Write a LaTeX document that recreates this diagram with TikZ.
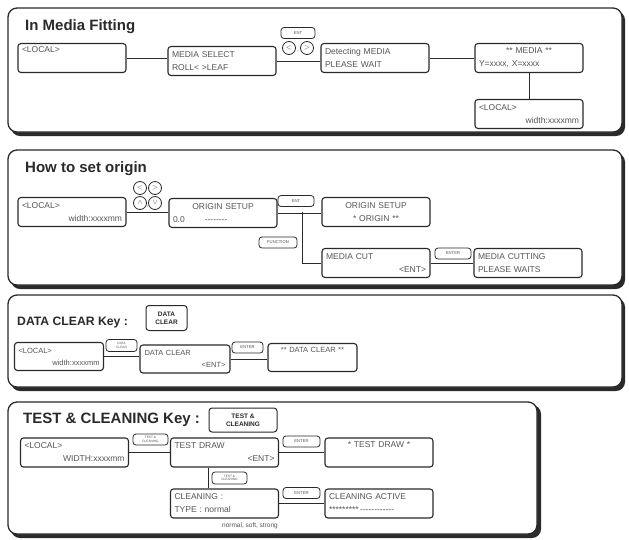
\documentclass[tikz,border=0pt]{standalone}
\usepackage{fontspec}
\setmainfont{Liberation Sans}
\definecolor{inkcol}{HTML}{2a2a2a}
\definecolor{txtcol}{HTML}{555555}
\newcommand{\midline}[1]{\makebox[\linewidth][c]{#1}}
\newcommand{\dashrow}[1]{\foreach \i in {1,...,#1}{\string-}}

\tikzset{
  lcd/.style={draw=inkcol, line width=1.1pt, rounded corners=3pt, fill=white,
    minimum width=108pt, minimum height=29pt, text width=100pt, align=left,
    inner xsep=4pt, inner ysep=2pt, text=txtcol, font=\fontsize{8.5}{13}\selectfont},
  lcdsmall/.style={lcd, minimum width=89pt, minimum height=28pt, text width=81pt,
    font=\fontsize{7.5}{12}\selectfont},
  keybox/.style={draw=inkcol, line width=0.8pt, rounded corners=3pt, fill=white,
    minimum width=34pt, minimum height=11pt, inner sep=0pt, align=center,
    text=txtcol, font=\fontsize{4.2}{4}\selectfont},
  keyround/.style={circle, draw=inkcol, line width=0.8pt, fill=white,
    minimum size=13pt, inner sep=0pt, text=txtcol, font=\fontsize{7}{7}\selectfont},
  bigkey/.style={draw=inkcol, line width=1pt, rounded corners=3pt, align=center,
    inner sep=0pt, text=inkcol, font=\bfseries\fontsize{6.5}{8}\selectfont},
  wire/.style={draw=inkcol, line width=0.9pt},
  panel/.style={draw=inkcol, line width=1.3pt, rounded corners=9pt, fill=white},
  panelshadow/.style={fill=inkcol, rounded corners=9pt},
  paneltitle/.style={anchor=west, inner sep=0pt, text=inkcol,
    font=\bfseries\fontsize{15}{15}\selectfont},
}

\begin{document}
\begin{tikzpicture}[x=1pt, y=-1pt]
\useasboundingbox (0,0) rectangle (629,539);

% --- Panel 1: In Media Fitting ---
\fill[panelshadow] (11,11) rectangle (625,136);
\draw[panel] (8,8) rectangle (622,132);
\node[paneltitle] (t1) at (25,27) {In Media Fitting};

\node[lcd] (loc1) at (72,58) {<LOCAL>\\\strut};
\node[lcd] (sel) at (222,61) {MEDIA SELECT\\ROLL< >LEAF};
\node[lcd] (det) at (375,58) {Detecting MEDIA\\PLEASE WAIT};
\node[lcd] (med) at (529,58) {\midline{** MEDIA **}\\Y=xxxx, X=xxxx};
\node[lcd] (loc2) at (529,114) {<LOCAL>\\\hspace*{\fill}width:xxxxmm};

% connectors
\draw[wire] (loc1.east) -- (loc1.east -| sel.west);
\draw[wire] (sel.east) -- (sel.east -| det.west);
\draw[wire] (det.east) -- (med.west);
\draw[wire] (med.south) -- (loc2.north);

% keys
\node[keybox] (ent1) at (298,33) {ENT};
\node[keyround] (lt1) at (289,48) {$<$};
\node[keyround] (gt1) at (307,48) {$>$};
\node[text=inkcol, font=\tiny, inner sep=0pt] (cm1) at (298,52) {,};

% --- Panel 2: How to set origin ---
\fill[panelshadow] (11,153) rectangle (625,289);
\draw[panel] (8,150) rectangle (622,285);
\node[paneltitle] (t2) at (25,169) {How to set origin};

\node[lcd] (loc3) at (72,212) {<LOCAL>\\\hspace*{\fill}width:xxxxmm};
\node[lcd] (orig) at (223,213) {\midline{ORIGIN SETUP}\\0.0\hspace{20pt}\dashrow{8}};
\node[lcd, align=center] (orig2) at (376,212) {ORIGIN SETUP\\** ORIGIN **};
\node[lcd] (mcut) at (376,263) {MEDIA CUT\\\hspace*{\fill}<ENT>};
\node[lcd] (mcutting) at (528,263) {MEDIA CUTTING\\PLEASE WAITS};
\coordinate (j2) at (302,212);

% connectors
\draw[wire] (loc3.east) -- (loc3.east -| orig.west);
\draw[wire] (orig.east) -- (orig.east -| orig2.west);
\draw[wire] (j2) |- (mcut.west);
\draw[wire] (mcut.east) -- (mcutting.west);

% keys
\node[keyround] (lt2) at (140,188) {$<$};
\node[keyround] (gt2) at (155,188) {$>$};
\node[keyround] (up2) at (140,203) {$\wedge$};
\node[keyround] (dn2) at (155,203) {$\vee$};
\node[text=inkcol, font=\tiny, inner sep=0pt] (cm2) at (147.5,207) {,};
\node[keybox, minimum width=36pt] (ent2) at (296,201) {ENT};
\node[keybox, minimum width=38pt] (func2) at (278,242.5) {FUNCTION};
\node[keybox, minimum width=36pt] (enter2) at (453,253.5) {ENTER};

% --- Panel 3: DATA CLEAR key ---
\fill[panelshadow] (11,298) rectangle (625,391);
\draw[panel] (8,295) rectangle (622,387);
\node[paneltitle, font=\bfseries\fontsize{12.2}{12}\selectfont] (t3) at (17,322) {DATA CLEAR Key :};
\node[bigkey, minimum width=41pt, minimum height=25pt] (dckey) at (166.5,318) {DATA\\CLEAR};

\node[lcdsmall] (loc4) at (59,356.5) {<LOCAL>\\\hspace*{\fill}width:xxxxmm};
\node[lcdsmall, minimum width=90pt] (dclr) at (185,359) {DATA CLEAR\\\hspace*{\fill}<ENT>};
\node[lcdsmall] (dclr2) at (312.5,357.5) {\midline{** DATA CLEAR **}\\\strut};

% connectors
\draw[wire] (loc4.east) -- (loc4.east -| dclr.west);
\draw[wire] (dclr.east) -- (dclr.east -| dclr2.west);

% keys
\node[keybox, minimum width=31pt, minimum height=12pt, font=\fontsize{3.2}{3.4}\selectfont] (dckey2) at (121.5,345.5) {DATA\\CLEAR};
\node[keybox, minimum width=31pt] (enter3) at (247.5,347.5) {ENTER};

% --- Panel 4: TEST & CLEANING key ---
\fill[panelshadow] (11,405) rectangle (541,538);
\draw[panel] (8,402) rectangle (537,534);
\node[paneltitle] (t4) at (23,420) {TEST \& CLEANING Key :};
\node[bigkey, minimum width=68pt, minimum height=24pt] (tckey) at (243,420) {TEST \&\\CLEANING};

\node[lcd] (loc5) at (74.5,452.5) {<LOCAL>\\\hspace*{\fill}WIDTH:xxxxmm};
\node[lcd] (tdraw) at (224.5,452.5) {TEST DRAW\\\hspace*{\fill}<ENT>};
\node[lcd] (tdraw2) at (379,452.5) {\midline{* TEST DRAW *}\\\strut};
\node[lcd] (clean) at (224.5,503.5) {CLEANING :\\TYPE : normal};
\node[lcd] (cleanact) at (379,503.5) {CLEANING ACTIVE\\**********\,\dashrow{12}};
\node[anchor=east, inner sep=0pt, text=txtcol, font=\fontsize{6.5}{7}\selectfont] (ctype) at (278,526) {normal, soft, strong};

% connectors
\draw[wire] (loc5.east) -- (tdraw.west);
\draw[wire] (tdraw.east) -- (tdraw2.west);
\draw[wire] ([xshift=-16pt]tdraw.south) -- ([xshift=-16pt]clean.north);
\draw[wire] (clean.east) -- (cleanact.west);

% keys
\node[keybox, minimum width=35pt, font=\fontsize{3.2}{3.4}\selectfont] (tckey2) at (150.5,439.5) {TEST \&\\CLEANING};
\node[keybox, minimum width=35pt, minimum height=12pt, font=\fontsize{3.2}{3.4}\selectfont] (tckey3) at (229.5,478) {TEST \&\\CLEANING};
\node[keybox, minimum width=37pt] (enter4) at (301.5,441.5) {ENTER};
\node[keybox, minimum width=37pt] (enter5) at (301.5,493) {ENTER};

\end{tikzpicture}
\end{document}
